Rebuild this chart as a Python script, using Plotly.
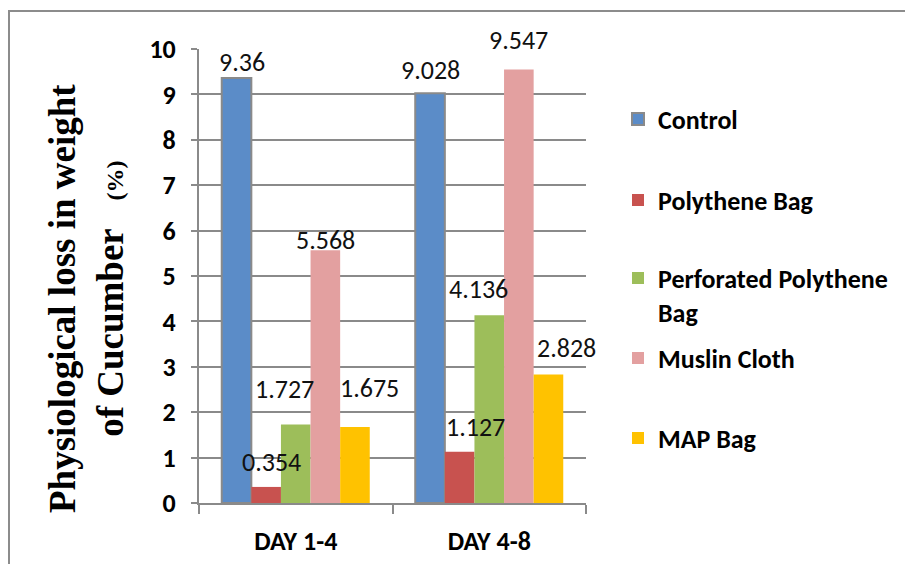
import plotly.graph_objects as go

categories = ["DAY 1-4", "DAY 4-8"]
series_names = ["Control", "Polythene Bag", "Perforated Polythene<br>Bag", "Muslin Cloth", "MAP Bag"]
control = [9.36, 9.028]
polythene = [0.354, 1.127]
perforated = [1.727, 4.136]
muslin = [5.568, 9.547]
map_bag = [1.675, 2.828]
y_ticks = [0, 1, 2, 3, 4, 5, 6, 7, 8, 9, 10]

series_values = [control, polythene, perforated, muslin, map_bag]
colors = ["#5B8CC8", "#C8524F", "#9DBE5A", "#E3A0A0", "#FFC200"]
line_colors = ["#8A8A8A", None, None, None, None]
legend_ids = ["legend", "legend2", "legend3", "legend4", "legend5"]

# pixel offsets for the data labels (label centre vs bar top-centre)
label_dx = [[5, 0], [5, 16], [-11, -11], [0, 0], [15, 18]]
label_dy = [[-16, -23], [-25, -25], [-36, -26], [-10, -30], [-39, -27]]
bar_px = 29.6

O = 8  # page body margin
W, H = 913 - O, 572 - 2 * O
L, T = 199 - O, 49 - O
R = W - (586 - O)
B = H - (503 - O)
pw = W - L - R
ph = H - T - B

def px_x(x):
    return (x - O - L) / pw

def px_y(y):
    return (H - B - (y - O)) / ph

FONT = "Calibri, Carlito, Lato, sans-serif"

fig = go.Figure()
for i, (name, vals) in enumerate(zip(series_names, series_values)):
    lc = line_colors[i]
    fig.add_trace(go.Bar(
        x=categories, y=vals, name=name,
        marker=dict(color=colors[i],
                    line=dict(color=lc if lc else colors[i], width=2 if lc else 0)),
        legend=legend_ids[i],
        showlegend=True,
    ))

label_font = dict(family=FONT, size=26, color="#111111")
annotations = []
for i, vals in enumerate(series_values):
    for j, v in enumerate(vals):
        annotations.append(dict(
            x=categories[j], y=v, xref="x", yref="y",
            text=f"{v:g}", showarrow=False,
            xshift=(i - 2) * bar_px + label_dx[i][j],
            yshift=-label_dy[i][j],
            yanchor="middle", xanchor="center",
            font=label_font,
        ))

annotations.append(dict(
    x=px_x(86), y=px_y(299), xref="paper", yref="paper",
    text="Physiological loss in weight<br>of Cucumber&nbsp;&nbsp;&nbsp;<span style='font-size:24px'>(%)</span>",
    textangle=-90, showarrow=False, xanchor="center", yanchor="middle",
    font=dict(family="Liberation Serif, Times New Roman, serif", size=37, color="#000000", weight="bold"),
    align="center",
))

legend_font = dict(family=FONT, size=26, color="#000000", weight="bold")
legend_y_px = [119, 200, 295, 358, 438]
layout_legends = {}
for k, lid in enumerate(legend_ids):
    layout_legends[lid] = dict(
        x=px_x(618), y=px_y(legend_y_px[k]), xanchor="left", yanchor="middle",
        font=legend_font, bgcolor="rgba(0,0,0,0)", valign="top",
        itemwidth=30,
    )

fig.update_layout(
    width=W, height=H,
    margin=dict(l=L, r=R, t=T, b=B, autoexpand=False),
    paper_bgcolor="white", plot_bgcolor="white",
    barmode="group", bargap=0.235, bargroupgap=0,
    annotations=annotations,
    shapes=[dict(type="rect", xref="paper", yref="paper",
                 x0=px_x(9), x1=px_x(960), y0=px_y(600), y1=px_y(11),
                 line=dict(color="#8C8C8C", width=2), fillcolor="rgba(0,0,0,0)",
                 layer="below")],
    **layout_legends,
)

fig.update_yaxes(
    range=[0, 10], tickvals=y_ticks, ticktext=[str(t) for t in y_ticks],
    showgrid=True, gridcolor="#8A8A8A", gridwidth=2,
    showline=True, linecolor="#8A8A8A", linewidth=2,
    ticks="outside", ticklen=6, tickcolor="#8A8A8A", tickwidth=2,
    tickfont=dict(family=FONT, size=26, color="#000000", weight="bold"),
    ticklabelstandoff=10, zeroline=False,
)
fig.update_xaxes(
    range=[-0.5, 1.5],
    showline=True, linecolor="#8A8A8A", linewidth=2,
    ticks="outside", tickson="boundaries", ticklen=9, tickcolor="#8A8A8A", tickwidth=2,
    tickfont=dict(family=FONT, size=26, color="#000000", weight="bold"),
    ticklabelstandoff=14,
)

fig.write_html("out.html")
